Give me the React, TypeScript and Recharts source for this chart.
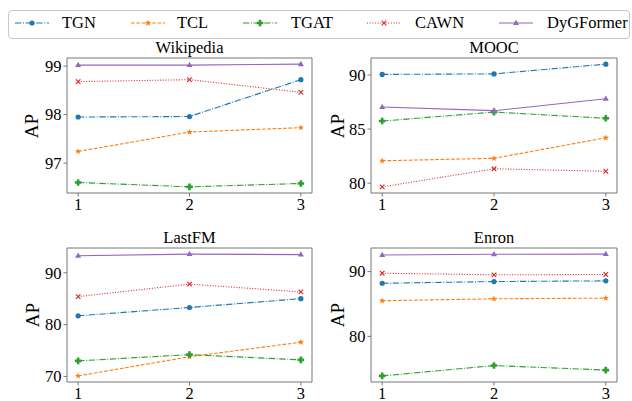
import React from 'react';
import { LineChart, Line, XAxis, YAxis, ReferenceArea } from 'recharts';

// x positions shared by every panel
const steps = [1, 2, 3];
const models = ['TGN', 'TCL', 'TGAT', 'CAWN', 'DyGFormer'];

// AP values, one row per model in the order of `models`
const wikipediaAP = [
  [97.95, 97.96, 98.72],
  [97.24, 97.64, 97.73],
  [96.6, 96.51, 96.58],
  [98.68, 98.72, 98.46],
  [99.02, 99.02, 99.04],
];
const moocAP = [
  [90.05, 90.1, 91.0],
  [82.07, 82.3, 84.2],
  [85.74, 86.57, 86.0],
  [79.66, 81.33, 81.1],
  [87.04, 86.7, 87.8],
];
const lastfmAP = [
  [81.7, 83.3, 85.0],
  [70.1, 73.8, 76.6],
  [73.0, 74.2, 73.2],
  [85.4, 87.8, 86.3],
  [93.27, 93.6, 93.5],
];
const enronAP = [
  [88.2, 88.46, 88.57],
  [85.5, 85.8, 85.9],
  [73.9, 75.5, 74.8],
  [89.75, 89.5, 89.55],
  [92.57, 92.67, 92.7],
];

const wikipediaTicks = [97, 98, 99];
const moocTicks = [80, 85, 90];
const lastfmTicks = [70, 80, 90];
const enronTicks = [80, 90];

const colors = ['#1f77b4', '#ff7f0e', '#2ca02c', '#d62728', '#9467bd'];
const dashes = ['6.4 1.6 1 1.6', '3.7 1.6', '6.4 1.6 1 1.6', '1 1.65', undefined];
const shapes = ['circle', 'star', 'plus', 'x', 'triangle'];

const FONT = "'Liberation Serif', Tinos, 'Times New Roman', Times, 'DejaVu Serif', serif";
const FRAME = '#777';

function Marker({ shape, cx, cy, color }: { shape: string; cx: number; cy: number; color: string }) {
  if (cx == null || cy == null) return null;
  if (shape === 'circle') return <circle cx={cx} cy={cy} r={2.6} fill={color} />;
  if (shape === 'triangle') {
    return <polygon points={`${cx},${cy - 3.3} ${cx - 3},${cy + 2} ${cx + 3},${cy + 2}`} fill={color} />;
  }
  if (shape === 'x') {
    const s = 2.3;
    return (
      <g stroke={color} strokeWidth={1.1}>
        <line x1={cx - s} y1={cy - s} x2={cx + s} y2={cy + s} />
        <line x1={cx - s} y1={cy + s} x2={cx + s} y2={cy - s} />
      </g>
    );
  }
  if (shape === 'star') {
    const pts: string[] = [];
    for (let k = 0; k < 10; k++) {
      const r = k % 2 === 0 ? 3.3 : 1.4;
      const a = -Math.PI / 2 + (k * Math.PI) / 5;
      pts.push(`${cx + r * Math.cos(a)},${cy + r * Math.sin(a)}`);
    }
    return <polygon points={pts.join(' ')} fill={color} />;
  }
  // filled plus
  const a = 3.3;
  const w = 1.3;
  return (
    <path
      d={`M${cx - w},${cy - a}H${cx + w}V${cy - w}H${cx + a}V${cy + w}H${cx + w}V${cy + a}H${cx - w}V${cy + w}H${cx - a}V${cy - w}H${cx - w}Z`}
      fill={color}
    />
  );
}

interface PanelProps {
  title: string;
  values: number[][];
  ticks: number[];
  left: number;
  top: number;
  right: number;
  bottom: number;
  labelX: number;
}

const Panel: React.FC<PanelProps> = ({ title, values, ticks, left, top, right, bottom, labelX }) => {
  const rows = steps.map((s, i) => {
    const row: Record<string, number> = { step: s };
    models.forEach((m, j) => (row[m] = values[j][i]));
    return row;
  });
  const all = values.flat();
  const lo = Math.min(...all);
  const hi = Math.max(...all);
  const pad = (hi - lo) * 0.05;
  const domain: [number, number] = [lo - pad, hi + pad];

  const yW = 60;
  const mTop = 10;
  const mRight = 10;
  const xH = 30;
  const width = right - left + yW + mRight;
  const height = bottom - top + mTop + xH;

  return (
    <>
      <div
        style={{
          position: 'absolute',
          left: left,
          width: right - left,
          top: top - 18,
          textAlign: 'center',
          fontFamily: FONT,
          fontSize: 16.5,
          lineHeight: '16px',
          color: '#000',
        }}
      >
        {title}
      </div>
      <div
        style={{
          position: 'absolute',
          left: labelX - 30,
          width: 60,
          top: (top + bottom) / 2 - 10,
          height: 20,
          lineHeight: '20px',
          textAlign: 'center',
          transform: 'rotate(-90deg)',
          fontFamily: FONT,
          fontSize: 19,
          color: '#000',
        }}
      >
        AP
      </div>
      <div style={{ position: 'absolute', left: left - yW, top: top - mTop }}>
        <LineChart
          width={width}
          height={height}
          data={rows}
          margin={{ top: mTop, right: mRight, bottom: 0, left: 0 }}
          style={{ fontFamily: FONT }}
        >
          <XAxis
            dataKey="step"
            type="number"
            domain={[0.9, 3.1]}
            ticks={steps}
            allowDataOverflow
            height={xH}
            axisLine={false}
            tickLine={{ stroke: FRAME }}
            tickSize={3.5}
            tickMargin={2}
            tick={{ fontSize: 16.5, fill: '#000', fontFamily: FONT }}
          />
          <YAxis
            type="number"
            domain={domain}
            ticks={ticks}
            allowDataOverflow
            width={yW}
            axisLine={false}
            tickLine={{ stroke: FRAME }}
            tickSize={3.5}
            tickMargin={2}
            tick={{ fontSize: 16.5, fill: '#000', fontFamily: FONT }}
          />
          <ReferenceArea
            x1={0.9}
            x2={3.1}
            y1={domain[0]}
            y2={domain[1]}
            fill="none"
            stroke={FRAME}
            strokeWidth={1}
            fillOpacity={0}
          />
          {models.map((m, j) => (
            <Line
              key={m}
              dataKey={m}
              type="linear"
              stroke={colors[j]}
              strokeWidth={1.1}
              strokeDasharray={dashes[j]}
              isAnimationActive={false}
              activeDot={false}
              dot={(p: any) => (
                <Marker key={`${m}-${p.index}`} shape={shapes[j]} cx={p.cx} cy={p.cy} color={colors[j]} />
              )}
            />
          ))}
        </LineChart>
      </div>
    </>
  );
};

const legendLineX = [15, 131, 243, 367, 499];
const legendTextX = [62, 177, 291, 415, 547];

const Legend: React.FC = () => (
  <>
    <div
      style={{
        position: 'absolute',
        left: 8,
        top: 10,
        width: 622,
        height: 29,
        border: '1px solid #c8c8c8',
        borderRadius: 4,
        boxSizing: 'border-box',
        background: '#fff',
      }}
    />
    <svg style={{ position: 'absolute', left: 0, top: 0 }} width={632} height={45}>
      {models.map((m, j) => (
        <g key={m}>
          <line
            x1={legendLineX[j]}
            x2={legendLineX[j] + 34}
            y1={23}
            y2={23}
            stroke={colors[j]}
            strokeWidth={1.1}
            strokeDasharray={dashes[j]}
          />
          <Marker shape={shapes[j]} cx={legendLineX[j] + 17} cy={23} color={colors[j]} />
        </g>
      ))}
    </svg>
    {models.map((m, j) => (
      <div
        key={m}
        style={{
          position: 'absolute',
          left: legendTextX[j],
          top: 14,
          fontFamily: FONT,
          fontSize: 16.5,
          lineHeight: '18px',
          color: '#000',
          whiteSpace: 'nowrap',
        }}
      >
        {m}
      </div>
    ))}
  </>
);

export default function App() {
  return (
    <div
      style={{
        position: 'absolute',
        left: 0,
        top: 0,
        width: 632,
        height: 401,
        background: '#fff',
        overflow: 'hidden',
        fontFamily: FONT,
      }}
    >
      <Legend />
      <Panel title="Wikipedia" values={wikipediaAP} ticks={wikipediaTicks} left={67} top={58} right={312} bottom={193} labelX={32} />
      <Panel title="MOOC" values={moocAP} ticks={moocTicks} left={371} top={58} right={617} bottom={193} labelX={338} />
      <Panel title="LastFM" values={lastfmAP} ticks={lastfmTicks} left={67} top={248} right={312} bottom={382} labelX={33} />
      <Panel title="Enron" values={enronAP} ticks={enronTicks} left={371} top={248} right={617} bottom={382} labelX={338} />
    </div>
  );
}
